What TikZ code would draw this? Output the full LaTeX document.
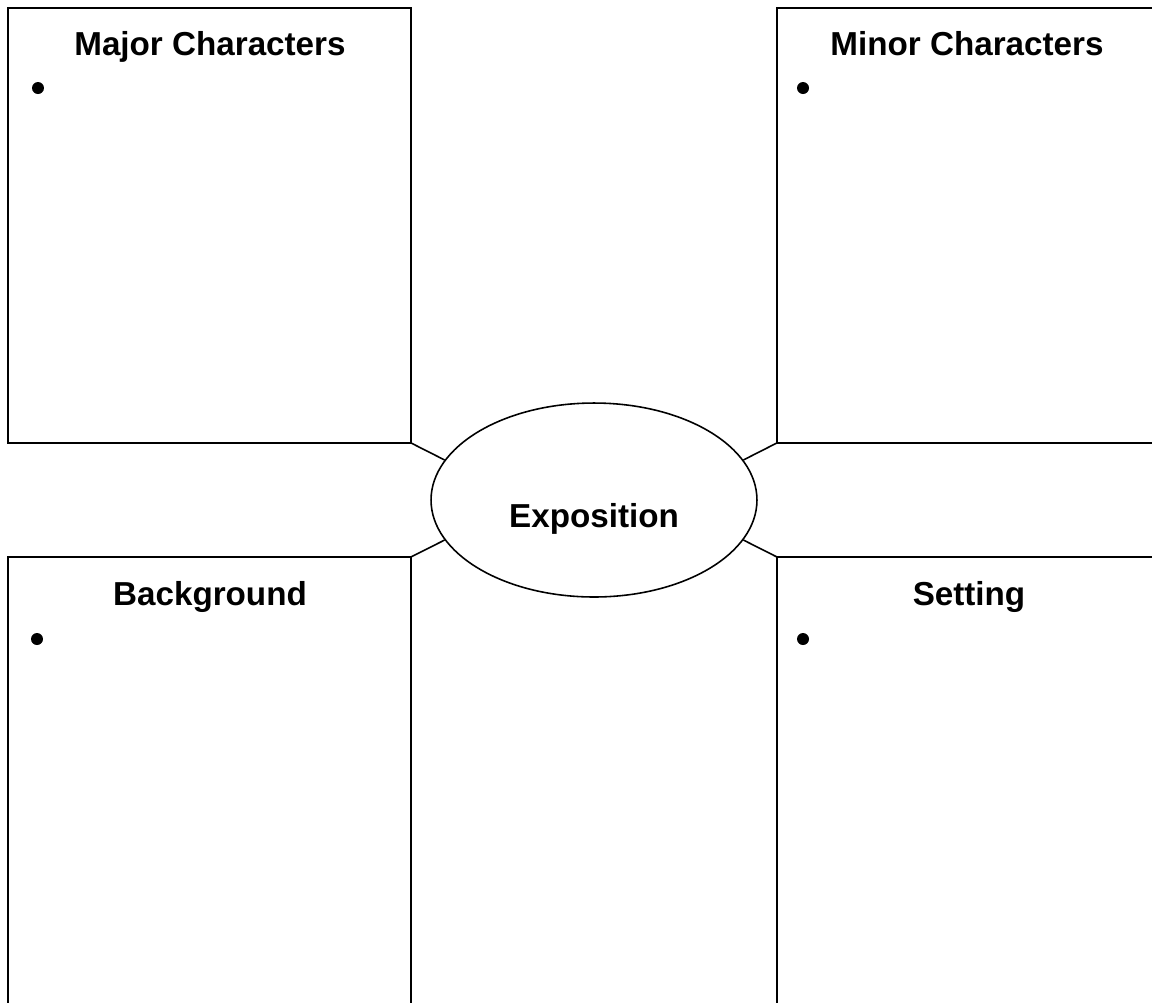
\documentclass[tikz,border=0pt]{standalone}
\usepackage{fontspec}
\setmainfont{Liberation Sans}
\usetikzlibrary{shapes.geometric}

\begin{document}
\begin{tikzpicture}[x=0.02cm, y=-0.02cm,
    box/.style={draw, line width=0.9pt, inner sep=0pt, outer sep=0pt, anchor=north west},
    heading/.style={font=\bfseries\fontsize{18.9}{22}\selectfont, anchor=base, inner sep=0pt},
    bullet/.style={circle, fill=black, inner sep=0pt, minimum size=0.24cm},
    link/.style={line width=0.9pt}]
  \useasboundingbox (0,0) rectangle (1152,1002);
  \node[box, minimum width=8.06cm, minimum height=8.7cm] (major) at (8,8) {};
  \node[box, minimum width=7.7cm, minimum height=8.7cm] (minor) at (777,8) {};
  \node[box, minimum width=8.06cm, minimum height=9.1cm] (backgr) at (8,557) {};
  \node[box, minimum width=7.7cm, minimum height=9.1cm] (setting) at (777,557) {};
  \node[ellipse, draw, line width=0.9pt, inner sep=0pt, minimum width=6.52cm, minimum height=3.88cm] (expo) at (594,500) {};
  \node[heading] (expolabel) at (594,527) {Exposition};
  \node[heading] (majorlabel) at (210,55) {Major Characters};
  \node[heading] (minorlabel) at (967,55) {Minor Characters};
  \node[heading] (backgrlabel) at (210,605) {Background};
  \node[heading] (settinglabel) at (969,605) {Setting};
  \node[bullet] (majordot) at (38,88) {};
  \node[bullet] (minordot) at (803,88) {};
  \node[bullet] (backgrdot) at (37,639) {};
  \node[bullet] (settingdot) at (803,639) {};
  \draw[link] (major.south east) -- (expo.165);
  \draw[link] (minor.south west) -- (expo.15);
  \draw[link] (backgr.north east) -- (expo.195);
  \draw[link] (setting.north west) -- (expo.345);
\end{tikzpicture}
\end{document}
